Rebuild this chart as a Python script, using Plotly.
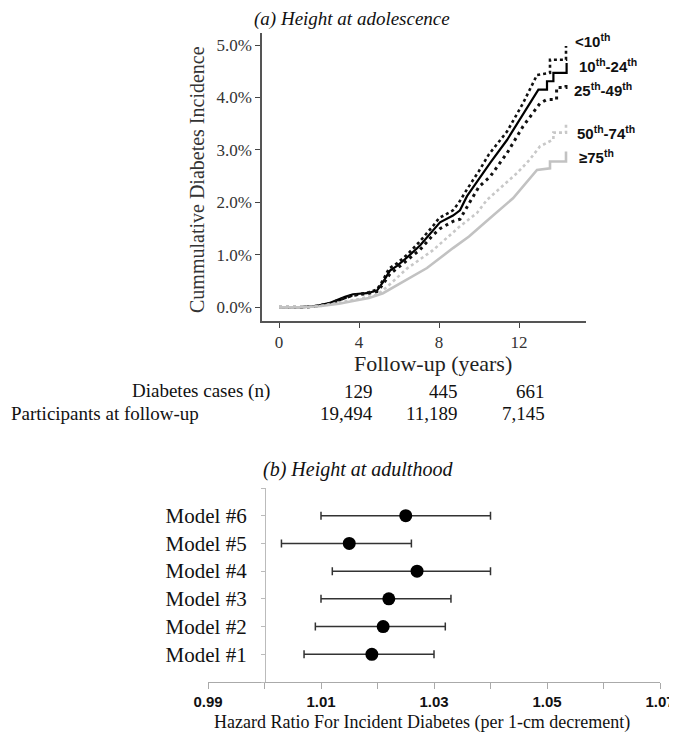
import plotly.graph_objects as go

# page has an 8px body margin: the figure is sized/positioned to compensate
OFF = 8
W, H = 677 - OFF, 740 - 2 * OFF

# ---------------- Panel (a) data ----------------
t_lt10 = [0, 1.0, 2.0, 2.5, 3.0, 3.5, 4.0, 4.5, 4.9, 5.2, 5.5, 5.9, 6.4, 7.0, 7.7, 8.0, 8.7, 9.0, 9.4, 10.0,
          10.5, 11.0, 11.4, 12.2, 12.9, 13.55, 13.55, 14.2, 14.35, 14.35]
y_lt10 = [0, 0, 0.03, 0.07, 0.13, 0.21, 0.25, 0.29, 0.34, 0.52, 0.74, 0.84, 1.0, 1.24, 1.55, 1.7, 1.85, 2.0, 2.25, 2.6,
          2.92, 3.15, 3.35, 3.89, 4.43, 4.47, 4.72, 4.72, 4.72, 4.98]

t_10_24 = [0, 1.0, 1.9, 2.5, 3.3, 3.7, 4.4, 4.9, 5.2, 5.55, 5.9, 6.4, 7.05, 7.7, 8.05, 8.7, 9.05, 9.4, 10.05,
           10.55, 11.4, 12.05, 12.55, 12.97, 13.4, 13.4, 13.72, 13.72, 14.38, 14.38]
y_10_24 = [0, 0, 0.03, 0.08, 0.2, 0.25, 0.27, 0.32, 0.48, 0.70, 0.79, 0.95, 1.18, 1.46, 1.62, 1.75, 1.85, 2.12, 2.49,
           2.75, 3.19, 3.58, 3.89, 4.15, 4.15, 4.31, 4.31, 4.47, 4.47, 4.66]

t_25_49 = [0, 1.0, 1.9, 2.5, 3.3, 3.7, 4.4, 4.9, 5.2, 5.55, 5.9, 6.4, 7.05, 7.7, 8.05, 8.7, 9.05, 9.5, 10.0,
           10.55, 11.4, 12.2, 13.05, 13.38, 13.88, 13.88, 14.35, 14.35]
y_25_49 = [0, 0, 0.02, 0.07, 0.18, 0.23, 0.26, 0.3, 0.44, 0.64, 0.74, 0.9, 1.1, 1.38, 1.5, 1.64, 1.68, 1.98, 2.3,
           2.49, 2.94, 3.45, 3.89, 3.96, 3.96, 4.19, 4.19, 4.28]

t_50_74 = [0, 1.0, 2.0, 3.0, 4.0, 4.9, 5.4, 6.4, 7.7, 9.0, 9.9, 10.4, 11.0, 11.9, 12.5, 13.05, 13.72, 13.72,
           14.35, 14.35]
y_50_74 = [0, 0, 0.02, 0.09, 0.16, 0.24, 0.39, 0.74, 1.09, 1.53, 1.8, 2.05, 2.25, 2.56, 2.8, 3.07, 3.2, 3.33,
           3.33, 3.48]

t_ge75 = [0, 1.0, 2.0, 3.0, 3.7, 4.5, 5.2, 6.05, 7.4, 8.7, 9.5, 10.4, 11.7, 12.9, 13.55, 13.55, 14.35, 14.35]
y_ge75 = [0, 0, 0.02, 0.07, 0.12, 0.18, 0.27, 0.46, 0.75, 1.13, 1.35, 1.65, 2.08, 2.62, 2.65, 2.78, 2.78, 2.97]

x_ticks_a = [0, 4, 8, 12]
y_ticks_a = [0, 1, 2, 3, 4, 5]

table_rows = ["Diabetes cases (n)", "Participants at follow-up"]
cases = ["129", "445", "661"]
participants = ["19,494", "11,189", "7,145"]

# ---------------- Panel (b) data ----------------
models = ["Model #1", "Model #2", "Model #3", "Model #4", "Model #5", "Model #6"]
hr = [1.019, 1.021, 1.022, 1.027, 1.015, 1.025]
ci_low = [1.007, 1.009, 1.010, 1.012, 1.003, 1.010]
ci_high = [1.030, 1.032, 1.033, 1.040, 1.026, 1.040]
x_ticks_b = [0.99, 1.01, 1.03, 1.05, 1.07]

SERIF = "Liberation Serif"
SANS = "Liberation Sans"

fig = go.Figure()

styles = [
    (t_lt10, y_lt10, "#111111", "dot", 2.6),
    (t_10_24, y_10_24, "#000000", "solid", 2.2),
    (t_25_49, y_25_49, "#111111", "3px,4px", 3.0),
    (t_50_74, y_50_74, "#c8c8c8", "dot", 2.6),
    (t_ge75, y_ge75, "#c2c2c2", "solid", 2.6),
]
for t, y, c, d, w in styles:
    fig.add_trace(go.Scatter(x=t, y=y, mode="lines", line=dict(color=c, dash=d, width=w),
                             xaxis="x", yaxis="y", showlegend=False, hoverinfo="skip"))

# forest plot
err_plus = [h - hh for h, hh in zip(ci_high, hr)]
err_minus = [hh - l for l, hh in zip(ci_low, hr)]
fig.add_trace(go.Scatter(
    x=hr, y=list(range(1, len(models) + 1)), mode="markers",
    marker=dict(color="black", size=13),
    error_x=dict(type="data", symmetric=False, array=err_plus,
                 arrayminus=err_minus, color="#333333", thickness=1.5, width=4),
    xaxis="x2", yaxis="y2", showlegend=False, hoverinfo="skip"))

def px(x):
    return (x - OFF) / W

def py(y):
    return 1 - (y - OFF) / H

fig.update_layout(
    width=W, height=H,
    margin=dict(l=0, r=0, t=0, b=0, pad=0, autoexpand=False),
    paper_bgcolor="white", plot_bgcolor="white",
    xaxis=dict(domain=[px(262), px(586)], range=[-0.85, 15.35], anchor="y",
               tickvals=x_ticks_a, ticktext=[str(v) for v in x_ticks_a],
               ticks="outside", ticklen=5, tickcolor="#444", showline=True, linecolor="#555",
               linewidth=1.5, showgrid=False, zeroline=False, automargin=False,
               tickfont=dict(family=SERIF, size=17, color="#333")),
    yaxis=dict(domain=[py(321), py(33)], range=[-0.26, 5.23], anchor="x",
               tickvals=y_ticks_a, ticktext=[f"{v:.1f}%" for v in y_ticks_a],
               ticks="outside", ticklen=5, tickcolor="#444", showline=True, linecolor="#555",
               linewidth=1.5, showgrid=False, zeroline=False, automargin=False,
               tickfont=dict(family=SERIF, size=17, color="#333")),
    xaxis2=dict(domain=[px(208), px(660)], range=[0.99, 1.07], anchor="y2",
                tickvals=x_ticks_b, ticktext=[f"<b>{v:.2f}</b>" for v in x_ticks_b],
                ticks="outside", ticklen=6, tickcolor="#aaa", showline=True, linecolor="#aaa",
                linewidth=1.2, showgrid=False, zeroline=False, automargin=False,
                minor=dict(ticks="outside", ticklen=6, tickcolor="#aaa", tick0=0.99, dtick=0.01,
                           showgrid=False),
                tickfont=dict(family=SANS, size=15, color="#111")),
    yaxis2=dict(domain=[py(682), py(488)], range=[0, 7], anchor="free", position=px(265),
                tickvals=list(range(1, len(models) + 1)), ticktext=models,
                ticks="outside", ticklen=4, tickcolor="#bbb", showline=True, linecolor="#bbb",
                linewidth=1.2, showgrid=False, zeroline=False, ticklabelstandoff=10, automargin=False,
                minor=dict(ticks="outside", ticklen=4, tickcolor="#bbb", tick0=0, dtick=1, showgrid=False),
                tickfont=dict(family=SERIF, size=21, color="#111")),
)

ann = []
def add_text(x, y, text, size, family=SERIF, xanchor="center", color="#111", textangle=0, italic=False):
    ann.append(dict(x=px(x), y=py(y), xref="paper", yref="paper", text=text, showarrow=False,
                    xanchor=xanchor, yanchor="middle", textangle=textangle,
                    font=dict(family=family, size=size, color=color,
                              style="italic" if italic else "normal")))

add_text(352, 19, "(a) Height at adolescence", 19, italic=True)
add_text(197, 180, "Cummulative Diabetes Incidence", 20, textangle=-90, color="#333")
add_text(433, 363, "Follow-up (years)", 22, color="#222")
add_text(272, 391, table_rows[0], 19, xanchor="right")
add_text(9, 413, table_rows[1], 19, xanchor="left")
for xr, c, p in zip([375, 460, 547], cases, participants):
    add_text(xr, 391, c, 19, xanchor="right")
    add_text(xr, 413, p, 19, xanchor="right")

labels_a = ["&lt;10<sup>th</sup>", "10<sup>th</sup>-24<sup>th</sup>", "25<sup>th</sup>-49<sup>th</sup>",
            "50<sup>th</sup>-74<sup>th</sup>", "≥75<sup>th</sup>"]
label_pos = [(573, 41), (577, 66), (572, 90), (575, 132), (577, 156)]
for lab, (x, y) in zip(labels_a, label_pos):
    add_text(x, y, f"<b>{lab}</b>", 15, family=SANS, xanchor="left")

add_text(358, 469, "(b) Height at adulthood", 20, italic=True)
add_text(422, 722, "Hazard Ratio For Incident Diabetes (per 1-cm decrement)", 18)

fig.update_layout(annotations=ann)
fig.write_html("out.html")
